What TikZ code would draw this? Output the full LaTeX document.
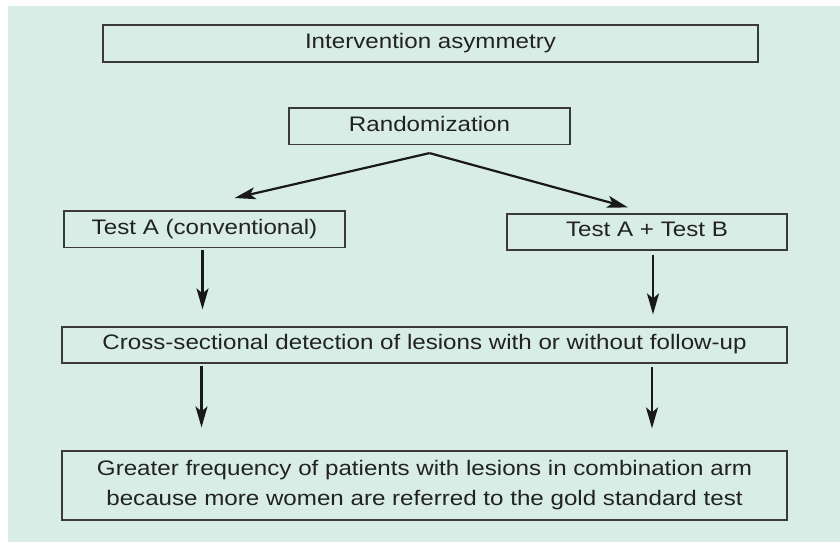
\documentclass[tikz,border=0pt]{standalone}
\usepackage{fontspec}
\setmainfont{Liberation Sans}[FakeStretch=1.15]
\usetikzlibrary{arrows.meta}
\definecolor{mintbg}{HTML}{D8EDE6}
\definecolor{boxline}{HTML}{3A3A3A}
\definecolor{inkgray}{HTML}{222222}

\begin{document}
\begin{tikzpicture}[
	x=1pt, y=-1pt,
	font=\fontsize{21}{30}\selectfont,
	box/.style={draw=boxline, line width=1.2pt, inner sep=0pt,
		text=inkgray, text height=15pt, text depth=5.5pt},
	wide/.style={box, minimum width=725pt, minimum height=36pt},
	arr/.style={draw=black!90, line width=2.2pt,
		-{Stealth[length=21pt, width=12pt, inset=5pt]}},
	]
\useasboundingbox (0,0) rectangle (840,542);
\fill [mintbg] (8,6) rectangle (840,542);

% boxes
\node [box, minimum width=655pt, minimum height=37pt] (asym) at (430.5,43.5) {Intervention asymmetry};
\node [box, minimum width=281pt, minimum height=36.5pt] (rand) at (429.5,126.25) {Randomization};
\node [box, minimum width=281pt, minimum height=36.5pt] (testa) at (204.5,229.25) {Test A (conventional)};
\node [box, minimum width=280pt, minimum height=36pt] (testab) at (647,232) {Test A + Test B};
\node [wide] (cross) at (424.5,345) {Cross-sectional detection of lesions with or without follow-up};
\node [wide, minimum height=69pt, text height=, text depth=, align=center] (freq) at (424.5,485.5)
	{Greater frequency of patients with lesions in combination arm\\because more women are referred to the gold standard test};

% arrows
\coordinate (split) at ([yshift=-8pt]rand.south);
\coordinate (lefttip) at (234.6,198);
\coordinate (righttip) at (628,207.4);
\draw [arr] (split) -- (lefttip);
\draw [arr] (split) -- (righttip);
\draw [arr, shorten <=1.5pt, shorten >=17pt] ([xshift=-2pt]testa.south) -- ([xshift=-2pt]testa.south |- cross.north);
\draw [arr, shorten <=4pt, shorten >=12pt] ([xshift=6pt]testab.south) -- ([xshift=6pt]testab.south |- cross.north);
\draw [arr, shorten <=3pt, shorten >=23pt] (201.5,363) coordinate (c1) -- (c1 |- freq.north);
\draw [arr, shorten <=4pt, shorten >=22pt] (652,363) coordinate (c2) -- (c2 |- freq.north);
\end{tikzpicture}
\end{document}
